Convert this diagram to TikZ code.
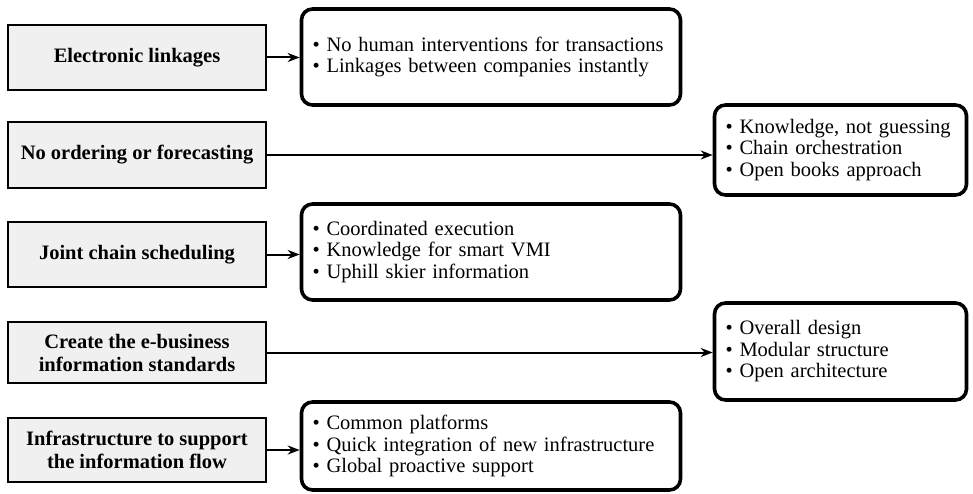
\documentclass[tikz,border=0pt]{standalone}
\usepackage{fontspec}
\setmainfont{Liberation Serif}
\usetikzlibrary{arrows.meta}

\tikzset{
  cause/.style={draw, line width=1.6pt, fill=black!6, minimum width=258pt,
    align=center, font=\bfseries\fontsize{20.5}{23}\selectfont},
  effect/.style={draw, line width=3.6pt, rounded corners=11pt, align=left,
    inner xsep=11pt, font=\fontsize{20.5}{21.5}\selectfont},
  link/.style={line width=2pt, -{Stealth[length=12pt,width=9pt]}}
}

\begin{document}
\begin{tikzpicture}[x=1pt,y=-1pt]
      \useasboundingbox (0,0) rectangle (973,494);

      % Drivers on the left
      \node[cause, minimum height=65pt] (elec) at (137,57.5) {Electronic linkages};
      \node[cause, minimum height=66pt] (noorder) at (137,155) {No ordering or forecasting};
      \node[cause, minimum height=65pt] (joint) at (137,254.5) {Joint chain scheduling};
      \node[cause, minimum height=61pt] (standards) at (137,352.5) {Create the e-business\\information standards};
      \node[cause, minimum height=64pt] (infra) at (137,450) {Infrastructure to support\\the information flow};

      % What each driver gives
      \node[effect, text width=357pt, minimum height=96pt] (elecpts) at (491,57)
        {\textbullet\ No human interventions for transactions\\
         \textbullet\ Linkages between companies instantly};
      \node[effect, text width=230pt, minimum height=90pt] (knowpts) at (840.5,150)
        {\textbullet\ Knowledge, not guessing\\
         \textbullet\ Chain orchestration\\
         \textbullet\ Open books approach};
      \node[effect, text width=357pt, minimum height=96pt] (jointpts) at (491,252)
        {\textbullet\ Coordinated execution\\
         \textbullet\ Knowledge for smart VMI\\
         \textbullet\ Uphill skier information};
      \node[effect, text width=230pt, minimum height=97pt] (designpts) at (840.5,351.5)
        {\textbullet\ Overall design\\
         \textbullet\ Modular structure\\
         \textbullet\ Open architecture};
      \node[effect, text width=357pt, minimum height=88pt] (infrapts) at (491,446)
        {\textbullet\ Common platforms\\
         \textbullet\ Quick integration of new infrastructure\\
         \textbullet\ Global proactive support};

      % Connecting arrows
      \draw[link] (elec.east) -- (elec.east -| elecpts.west);
      \draw[link] (noorder.east) -- (noorder.east -| knowpts.west);
      \draw[link] (joint.east) -- (joint.east -| jointpts.west);
      \draw[link] (standards.east) -- (standards.east -| designpts.west);
      \draw[link] (infra.east) -- (infra.east -| infrapts.west);
\end{tikzpicture}
\end{document}
